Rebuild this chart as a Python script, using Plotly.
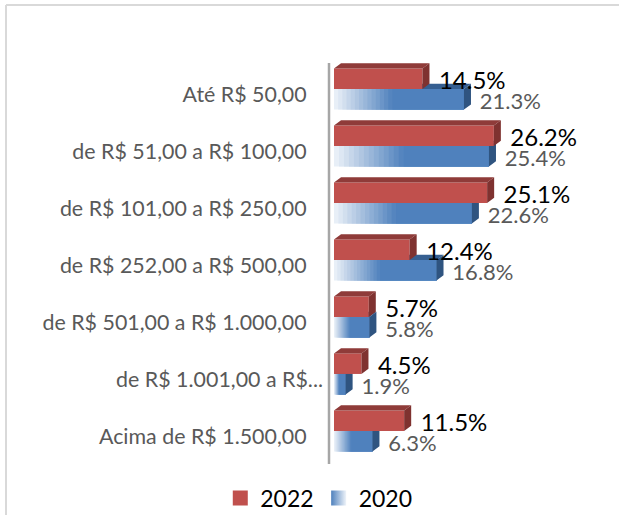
import plotly.graph_objects as go

categories = [
    'Até R$ 50,00',
    'de R$ 51,00 a R$ 100,00',
    'de R$ 101,00 a R$ 250,00',
    'de R$ 252,00 a R$ 500,00',
    'de R$ 501,00 a R$ 1.000,00',
    'de R$ 1.001,00 a R$...',
    'Acima de R$ 1.500,00',
]
values_2022 = [14.5, 26.2, 25.1, 12.4, 5.7, 4.5, 11.5]
values_2020 = [21.3, 25.4, 22.6, 16.8, 5.8, 1.9, 6.3]

RED = '#c0504d'
RED_TOP = '#8f3b39'
RED_SIDE = '#7f3230'
BLUE = '#4f81bd'
BLUE_TOP = '#365f91'
BLUE_SIDE = '#2f5480'
PALE = '#eef3f9'
FONT = 'Lato'

BAR = 0.36      # bar thickness, in rows
DX = 1.15       # depth of the 3d faces, in value units
DY = 0.09       # same, in rows
FADE = 0.45     # part of each blue bar that fades out to white
STEPS = 14

rows = list(range(len(categories)))
fig = go.Figure()


def mix(t):
    start = (238, 243, 249)
    end = (79, 129, 189)
    return 'rgb(%d,%d,%d)' % tuple(round(a + (b - a) * t) for a, b in zip(start, end))


def faces(values, top, color_top, color_side, zorder):
    # top and side of each bar as closed polygons, split by None
    xt, yt, xs, ys = [], [], [], []
    for r, v in zip(rows, values):
        y0 = r - BAR if top else r
        y1 = r if top else r + BAR
        xt += [0, DX, v + DX, v, 0, None]
        yt += [y0, y0 - DY, y0 - DY, y0, y0, None]
        xs += [v, v + DX, v + DX, v, v, None]
        ys += [y0, y0 - DY, y1 - DY, y1, y0, None]
    for x, y, c in ((xt, yt, color_top), (xs, ys, color_side)):
        fig.add_trace(go.Scatter(x=x, y=y, mode='none', fill='toself', fillcolor=c,
                                 showlegend=False, hoverinfo='skip', zorder=zorder))


# 2020, drawn first because it sits behind the red bars
# each step runs to the end of the bar so no seams show between steps
for i in range(STEPS):
    base = [v * FADE * i / STEPS for v in values_2020]
    fig.add_trace(go.Bar(
        x=[v - b for v, b in zip(values_2020, base)],
        y=[r + BAR / 2 for r in rows],
        base=base,
        orientation='h', width=BAR, marker_color=mix((i + 0.5) / STEPS),
        marker_line_width=0, showlegend=False, hoverinfo='skip', zorder=1))
fig.add_trace(go.Bar(
    x=[v * (1 - FADE) for v in values_2020],
    y=[r + BAR / 2 for r in rows],
    base=[v * FADE for v in values_2020],
    orientation='h', width=BAR, marker_color=BLUE, marker_line_width=0,
    showlegend=False, hoverinfo='skip', zorder=1))
faces(values_2020, False, BLUE_TOP, BLUE_SIDE, 2)

# 2022
fig.add_trace(go.Bar(
    x=values_2022, y=[r - BAR / 2 for r in rows],
    orientation='h', width=BAR, marker_color=RED, marker_line_width=0,
    showlegend=False, hoverinfo='skip', zorder=3))
faces(values_2022, True, RED_TOP, RED_SIDE, 4)

# data labels
fig.add_trace(go.Scatter(
    x=[v + 2.6 for v in values_2020], y=[r + 0.26 for r in rows],
    text=['%.1f%%' % v for v in values_2020], mode='text',
    textposition='middle right', textfont=dict(family=FONT, size=22, color='#595959'),
    showlegend=False, hoverinfo='skip', zorder=5))
fig.add_trace(go.Scatter(
    x=[v + 2.7 for v in values_2022], y=[r - 0.105 for r in rows],
    text=['%.1f%%' % v for v in values_2022], mode='text',
    textposition='middle right', textfont=dict(family=FONT, size=24, color='#000000'),
    showlegend=False, hoverinfo='skip', zorder=6))

# legend swatches: empty traces, so the squares can be larger than a bar's
fig.add_trace(go.Scatter(x=[None], y=[None], mode='markers', name='2022',
                         marker=dict(symbol='square', size=15, color=RED)))
fig.add_trace(go.Scatter(x=[None], y=[None], mode='markers', name='2020',
                         marker=dict(symbol='square', size=15, color=BLUE,
                                     gradient=dict(type='horizontal', color=PALE))))

# the long label runs closer to the axis in the reference
ticktext = [c + '\u00a0' * 3 if not c.endswith('...') else c for c in categories]

MARGIN = dict(l=329, r=19, t=63, b=51)
WIDTH = 619
HEIGHT = 515
PLOT_W = WIDTH - MARGIN['l'] - MARGIN['r']
PLOT_H = HEIGHT - MARGIN['t'] - MARGIN['b']

# chart frame, only its top and left edges are in the picture
frame = dict(type='line', xref='paper', yref='paper',
             line=dict(color='#d9d9d9', width=2))
left = (6 - MARGIN['l']) / PLOT_W
top = 1 + (MARGIN['t'] - 5) / PLOT_H
fig.add_shape(x0=left, x1=1 + MARGIN['r'] / PLOT_W, y0=top, y1=top, **frame)
fig.add_shape(x0=left, x1=left, y0=top, y1=-MARGIN['b'] / PLOT_H, **frame)
# category axis line (the axis' own line does not show with zorder traces)
fig.add_shape(type='line', xref='paper', yref='paper', x0=0, x1=0, y0=0, y1=1,
              line=dict(color='#a6a6a6', width=2.5))

fig.update_layout(
    width=WIDTH, height=HEIGHT,
    margin=dict(autoexpand=False, **MARGIN),
    paper_bgcolor='white', plot_bgcolor='white',
    barmode='overlay',
    font=dict(family=FONT),
    legend=dict(orientation='h', itemsizing='trace',
                x=0.515, xref='container', xanchor='center',
                y=-0.085, yref='paper', yanchor='middle',
                font=dict(size=23, color='#000000'),
                bgcolor='rgba(0,0,0,0)'),
    xaxis=dict(range=[-0.82, 43.6], showticklabels=False, showline=False,
               showgrid=False, zeroline=False, ticks=''),
    yaxis=dict(range=[6.58, -0.456], showgrid=False, zeroline=False, showline=False,
               tickmode='array', tickvals=[r + 0.1 for r in rows], ticktext=ticktext,
               ticks='', ticklabelstandoff=5,
               tickfont=dict(family=FONT, size=21.4, color='#595959')),
)

# drop the page's default body margin so the figure fills the window
fig.write_html('out.html', config=dict(displayModeBar=False),
               post_script="document.body.style.margin='0';")
